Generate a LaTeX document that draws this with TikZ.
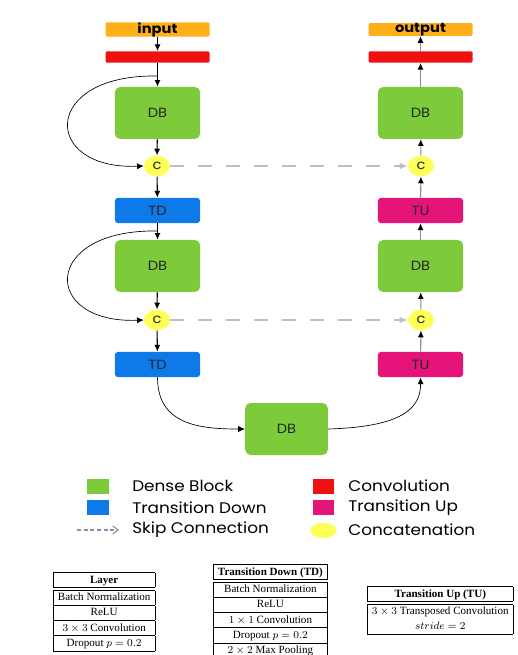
\documentclass[tikz,border=0pt]{standalone}
\usepackage{fontspec}
\setmainfont{Liberation Serif}
\newfontfamily\geo[FakeStretch=1.1]{Poppins}
\usetikzlibrary{arrows.meta,shapes.geometric}
\definecolor{cOrange}{RGB}{255,176,24}
\definecolor{cRed}{RGB}{240,16,16}
\definecolor{cGreen}{RGB}{125,202,58}
\definecolor{cBlue}{RGB}{14,122,232}
\definecolor{cMag}{RGB}{228,20,120}
\definecolor{cYel}{RGB}{255,255,90}
\definecolor{cSkip}{RGB}{190,190,190}
\definecolor{cLeg}{RGB}{130,145,165}
\begin{document}
\begin{tikzpicture}[x=0.75pt,y=-0.75pt,
  lbl/.style={font=\geo\fontsize{10}{11}\selectfont, text=black!85},
  bar/.style={rectangle, rounded corners=1pt, minimum width=78pt, minimum height=8.5pt, inner sep=0pt},
  barlbl/.style={font=\geo\bfseries\fontsize{10}{10}\selectfont},
  dbbox/.style={rectangle, fill=cGreen, rounded corners=4pt, minimum width=64pt, minimum height=39pt, inner sep=0pt, lbl},
  tdbox/.style={rectangle, fill=cBlue, rounded corners=2.5pt, minimum width=64pt, minimum height=19pt, inner sep=0pt, lbl},
  tubox/.style={tdbox, fill=cMag},
  cnode/.style={ellipse, fill=cYel, minimum width=19.5pt, minimum height=15.5pt, inner sep=0pt, lbl},
  arr/.style={line width=0.8pt, -{Latex[length=5pt,width=4.5pt]}},
  arrg/.style={line width=0.8pt, draw=black!45, -{Latex[length=5pt,width=4.5pt,color=black]}},
  loop/.style={line width=0.5pt, -{Latex[length=5pt,width=4.5pt]}},
  skip/.style={line width=1.5pt, draw=cSkip, dash pattern=on 10pt off 11pt, -{Latex[length=6pt,width=5pt]}},
  legtxt/.style={anchor=west, font=\geo\fontsize{11.5}{13}\selectfont, inner sep=0pt},
  tbl/.style={anchor=north west, inner sep=0pt, font=\fontsize{8.3}{10.9}\selectfont}
]
\useasboundingbox (0,0) rectangle (517,655);
\fill[white] (0,0) rectangle (517,655);

% left column
\node[bar, fill=cOrange, barlbl] (in) at (157.5,29.5) {input};
\node[bar, fill=cRed] (cv1) at (157.5,57) {};
\node[dbbox] (db1) at (157.5,113) {DB};
\node[cnode] (c1) at (157,166) {c};
\node[tdbox] (td1) at (157.5,210.5) {TD};
\node[dbbox] (db2) at (157.5,266) {DB};
\node[cnode] (c2) at (157,320) {c};
\node[tdbox] (td2) at (157.5,364.5) {TD};

% bottom
\node[dbbox, minimum width=62pt] (db3) at (286.5,429) {DB};

% right column
\node[tubox] (tu2) at (420.5,364.5) {TU};
\node[cnode] (cr2) at (421,320) {c};
\node[dbbox] (db4) at (420.5,266) {DB};
\node[tubox] (tu1) at (420.5,210.5) {TU};
\node[cnode] (cr1) at (421,166) {c};
\node[dbbox] (db5) at (420.5,113) {DB};
\node[bar, fill=cRed] (cv2) at (420.5,57) {};
\node[bar, fill=cOrange, barlbl] (out) at (420.5,29.5) {output};

% left arrows
\draw[arr] (in) -- (cv1);
\draw[arr] (cv1) -- (db1);
\draw[arr] (db1) -- (c1);
\draw[arr] (c1) -- (td1);
\draw[arr] (td1) -- (db2);
\draw[arr] (db2) -- (c2);
\draw[arr] (c2) -- (td2);

% right arrows
\draw[arrg] (tu2) -- (cr2);
\draw[arrg] (cr2) -- (db4);
\draw[arrg] (db4) -- (tu1);
\draw[arrg] (tu1) -- (cr1);
\draw[arrg] (cr1) -- (db5);
\draw[arrg] (db5) -- (cv2);
\draw[arrg] (cv2) -- (out);

% loops
\coordinate (l1) at (157.5,76);
\coordinate (l2) at (157.5,231);
\draw[loop] (l1) .. controls (41,74) and (41,170) .. (c1.west);
\draw[loop] (l2) .. controls (41,229) and (41,324) .. (c2.west);

% bottom curves
\draw[loop] (td2.south) .. controls (157.5,425) and (200,429) .. (db3.west);
\draw[loop] (db3.east) .. controls (395,427) and (421,412) .. (tu2.south);

% skip connections
\draw[skip] (c1.east) -- (cr1.west);
\draw[skip] (c2.east) -- (cr2.west);

% legend
\fill[cGreen] (87,479) rectangle (109,494);
\node[legtxt] (t1) at (132,486) {Dense Block};
\fill[cBlue] (87,500) rectangle (109,515);
\node[legtxt] (t2) at (132,507.5) {Transition Down};
\coordinate (s1) at (77,530);
\coordinate (s2) at (119,530);
\draw[cLeg, line width=0.8pt, dash pattern=on 3pt off 2pt, -{Straight Barb[length=4pt,width=6pt]}] (s1) -- (s2);
\node[legtxt] (t3) at (132,530) {Skip Connection};
\fill[cRed] (313,479) rectangle (334,494);
\node[legtxt] (t4) at (348,486) {Convolution};
\fill[cMag] (313,500) rectangle (334,515);
\node[legtxt] (t5) at (348,507.5) {Transition Up};
\node[ellipse, fill=cYel, minimum width=20pt, minimum height=11.5pt, inner sep=0pt] (e1) at (323.5,530.5) {};
\node[legtxt] (t6) at (348,530) {Concatenation};

% tables
\setlength{\tabcolsep}{3.5pt}
\setlength{\doublerulesep}{1.8pt}
\setlength{\arrayrulewidth}{0.5pt}
\node[tbl] (tab1) at (53,572) {\begin{tabular}{|c|}\hline
\textbf{Layer}\\\hline\hline
Batch Normalization\\\hline
ReLU\\\hline
$3\times3$ Convolution\\\hline
Dropout $p=0.2$\\\hline
\end{tabular}};
\node[tbl] (tab2) at (213,564) {\begin{tabular}{|c|}\hline
\textbf{Transition Down (TD)}\\\hline\hline
Batch Normalization\\\hline
ReLU\\\hline
$1\times1$ Convolution\\\hline
Dropout $p=0.2$\\\hline
$2\times2$ Max Pooling\\\hline
\end{tabular}};
\node[tbl] (tab3) at (367,586) {\begin{tabular}{|c|}\hline
\textbf{Transition Up (TU)}\\\hline\hline
$3\times3$ Transposed Convolution\\
$stride=2$\\\hline
\end{tabular}};
\end{tikzpicture}
\end{document}
